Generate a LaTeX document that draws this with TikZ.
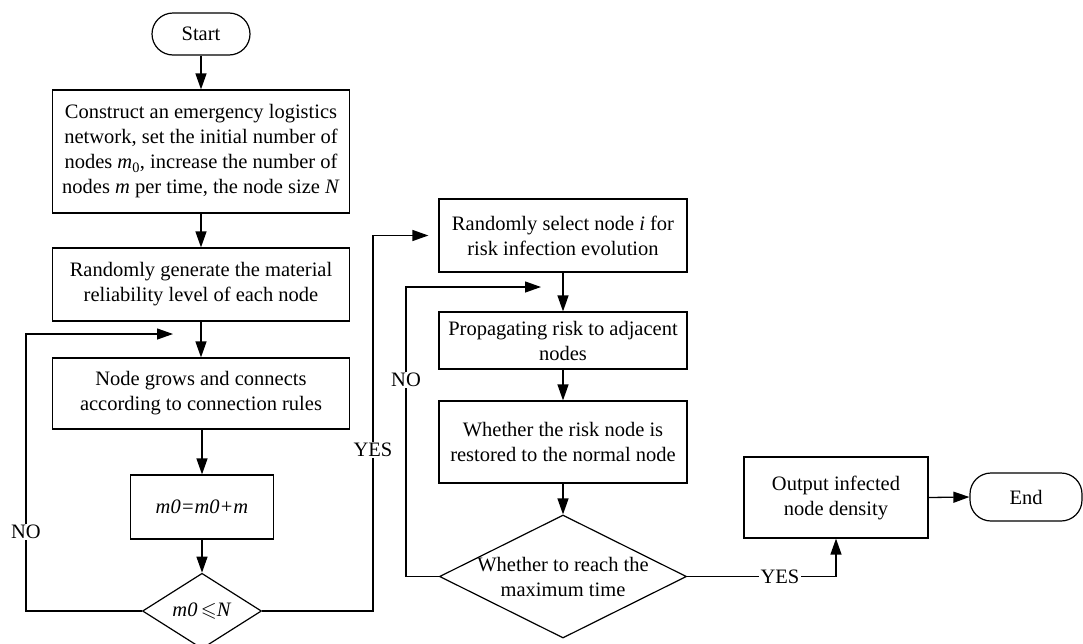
\documentclass[tikz,border=0pt]{standalone}
\usepackage{fontspec}
\setmainfont{Liberation Serif}
\usepackage{amssymb}
\usetikzlibrary{arrows.meta,shapes.geometric}

\begin{document}
\begin{tikzpicture}[x=1pt,y=-1pt,
  every node/.style={font=\fontsize{20.5}{25}\selectfont},
  box/.style={draw, line width=1.2pt, rectangle, align=center, inner sep=0pt},
  term/.style={draw, line width=1.2pt, rectangle, rounded corners=21pt, align=center, inner sep=0pt},
  decision/.style={draw, line width=1.2pt, diamond, inner sep=0pt, align=center},
  arr/.style={line width=1.3pt, -{Triangle[length=16pt,width=11pt]}},
  lbl/.style={fill=white, inner sep=1.5pt}]

\useasboundingbox (0,0) rectangle (1083,643);

% left column: network construction
\node[term, minimum width=98pt, minimum height=42pt] (start) at (201,34) {Start};
\node[box, minimum width=297pt, minimum height=123pt] (b1) at (201,151.5)
  {Construct an emergency logistics\\ network, set the initial number of\\
   nodes \textit{m}\textsubscript{0}, increase the number of\\
   nodes \textit{m} per time, the node size \textit{N}};
\node[box, minimum width=297pt, minimum height=73pt] (b2) at (201,284.5)
  {Randomly generate the material\\ reliability level of each node};
\node[box, minimum width=297pt, minimum height=71pt] (b3) at (201,393.5)
  {Node grows and connects\\ according to connection rules};
\node[box, minimum width=143pt, minimum height=64pt] (b4) at (202,507)
  {\textit{m0=m0+m}};
\node[decision, minimum width=119pt, minimum height=70pt] (d1) at (202,611)
  {\textit{m0}\,$\leqslant$\textit{N}};

% right column: risk propagation
\node[box, minimum width=248pt, minimum height=73pt] (b5) at (563,235.5)
  {Randomly select node \textit{i} for\\ risk infection evolution};
\node[box, minimum width=248pt, minimum height=57pt] (b6) at (563,340.5)
  {Propagating risk to adjacent\\ nodes};
\node[box, minimum width=248pt, minimum height=82pt] (b7) at (563,442)
  {Whether the risk node is\\ restored to the normal node};
\node[decision, minimum width=247pt, minimum height=123pt] (d2) at (563,576.5) {};
\node[align=center] (d2t) at (563,577) {Whether to reach the\\ maximum time};
\node[box, minimum width=184pt, minimum height=81pt] (b8) at (836,497.5)
  {Output infected\\ node density};
\node[term, minimum width=112pt, minimum height=48pt] (end) at (1026,497) {End};

% loop entry points
\coordinate (j1) at (173,334);
\coordinate (j2) at (541,287);

% main flow
\draw[arr] (start) -- (b1);
\draw[arr] (b1) -- (b2);
\draw[arr] (b2) -- (b3);
\draw[arr] (b3.south -| b4.north) -- (b4.north);
\draw[arr] (b4) -- (d1);
\draw[arr] (d1.west) -- (26,611) |- (j1);
\draw[arr, shorten >=10pt] (d1.east) -- (373,611) |- (b5.west);
\draw[arr] (b5) -- (b6);
\draw[arr] (b6) -- (b7);
\draw[arr] (b7) -- (d2);
\draw[arr] (d2.west) -- (406,576.5) |- (j2);
\draw[arr] (d2.east) -| (b8.south);
\draw[arr] (b8.east) -- (end.west);

% branch labels
\node[lbl] (no1) at (26,532) {NO};
\node[lbl] (yes1) at (373,450) {YES};
\node[lbl] (no2) at (406,380) {NO};
\node[lbl] (yes2) at (780,576.5) {YES};

\end{tikzpicture}
\end{document}
